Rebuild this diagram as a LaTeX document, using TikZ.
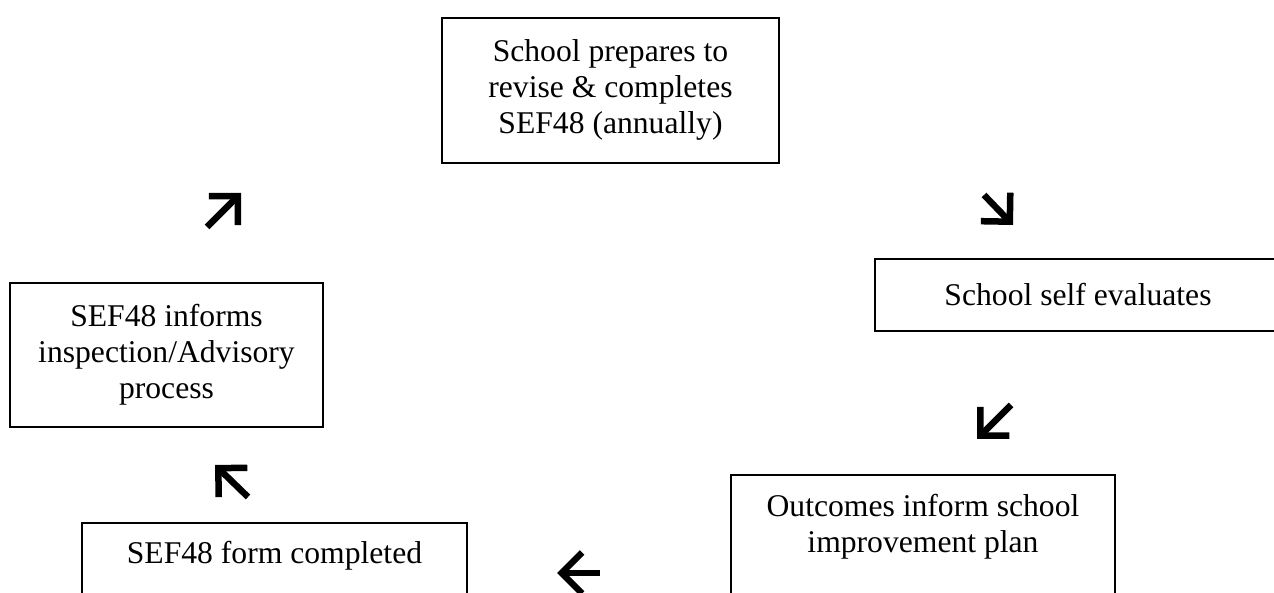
\documentclass[tikz,border=0pt]{standalone}
\usepackage{fontspec}
\setmainfont{Liberation Serif}
\usetikzlibrary{arrows.meta}

\tikzset{
  box/.style={draw, line width=1pt, align=center, anchor=north,
    font=\fontsize{18}{20.5}\selectfont},
  cyclearrow/.style={line width=0.13cm,
    -{Straight Barb[length=0.41cm, width=0.82cm, sharp]}}
}

\begin{document}
\begin{tikzpicture}
      \useasboundingbox (0,0) rectangle (25.48,11.86);
      \clip (0,0) rectangle (25.48,11.86);
      % the five steps
      \node[box, minimum width=6.74cm, minimum height=2.90cm] (prepare) at (12.21,11.52)
        {School prepares to\\revise \& completes\\SEF48 (annually)};
      \node[box, minimum width=8.12cm, minimum height=1.44cm] (selfeval) at (21.56,6.70)
        {School self evaluates};
      \node[box, minimum width=7.68cm, minimum height=2.86cm] (outcomes) at (18.46,2.38)
        {Outcomes inform school\\improvement plan\\\strut};
      \node[box, minimum width=7.70cm, minimum height=2.12cm] (formdone) at (5.49,1.42)
        {SEF48 form completed\\\strut};
      \node[box, minimum width=6.26cm, minimum height=2.88cm] (informs) at (3.33,6.22)
        {SEF48 informs\\inspection/Advisory\\process};
      % arrows round the cycle
      \coordinate (se-a) at (19.68,7.96);
      \coordinate (se-b) at (20.26,7.36);
      \coordinate (sw-a) at (20.22,3.76);
      \coordinate (sw-b) at (19.54,3.08);
      \coordinate (w-a) at (12.00,0.40);
      \coordinate (w-b) at (11.14,0.40);
      \coordinate (nw-a) at (4.96,1.92);
      \coordinate (nw-b) at (4.30,2.56);
      \coordinate (ne-a) at (4.14,7.32);
      \coordinate (ne-b) at (4.82,8.00);
      \foreach \a/\b in {se-a/se-b, sw-a/sw-b, w-a/w-b, nw-a/nw-b, ne-a/ne-b}
        \draw[cyclearrow] (\a) -- (\b);
    \end{tikzpicture}
\end{document}
